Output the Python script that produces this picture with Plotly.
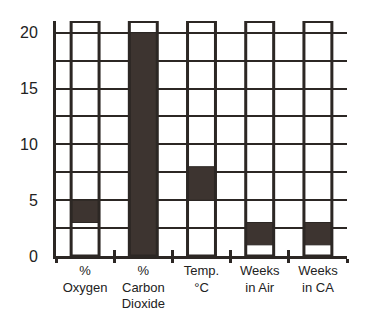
import plotly.graph_objects as go

# Storage conditions: each dark bar spans a recommended low..high range
categories = ["%<br>Oxygen", "%<br>Carbon<br>Dioxide", "Temp.<br>°C", "Weeks<br>in Air", "Weeks<br>in CA"]
range_low = [3, 0, 5, 1, 1]
range_high = [5, 20, 8, 3, 3]
column_top = [21, 21, 21, 21, 21]

y_ticks = [0, 2.5, 5, 7.5, 10, 12.5, 15, 17.5, 20]
y_tick_text = ["0", "", "5", "", "10", "", "15", "", "20"]

ink = "#2c2724"
fill = "#3d3430"
bar_width = 0.48

fig = go.Figure()

# Filled ranges
fig.add_trace(go.Bar(
    x=categories,
    y=[h - l for h, l in zip(range_high, range_low)],
    base=range_low,
    width=bar_width,
    marker=dict(color=fill, line=dict(color=ink, width=1)),
))

# Open columns framing each category (on a twin axis that carries the inner ticks)
fig.add_trace(go.Bar(
    x=categories,
    y=column_top,
    base=[0] * len(categories),
    width=bar_width,
    xaxis="x2",
    marker=dict(color="rgba(0,0,0,0)", line=dict(color=ink, width=3)),
    hoverinfo="skip",
))

axis_common = dict(
    type="category",
    range=[-0.5, 4.5],
    categoryorder="array",
    categoryarray=categories,
    showgrid=False,
    tickson="boundaries",
    tickwidth=3,
    tickcolor=ink,
)

fig.update_layout(
    barmode="overlay",
    showlegend=False,
    width=375,
    height=329,
    margin=dict(l=56, r=28, t=21, b=73),
    paper_bgcolor="white",
    plot_bgcolor="white",
    font=dict(family="Liberation Sans, Arial, sans-serif", color="#222"),
    xaxis=dict(
        **axis_common,
        showline=True,
        linecolor=ink,
        linewidth=3,
        ticks="outside",
        ticklen=4,
        tickfont=dict(size=13),
    ),
    xaxis2=dict(
        **axis_common,
        overlaying="x",
        anchor="y",
        side="bottom",
        showline=False,
        ticks="inside",
        ticklen=6,
        showticklabels=False,
    ),
    yaxis=dict(
        range=[0, 21.05],
        tickvals=y_ticks,
        ticktext=y_tick_text,
        showgrid=True,
        gridcolor=ink,
        gridwidth=2,
        zeroline=False,
        showline=True,
        linecolor=ink,
        linewidth=3,
        ticks="",
        ticklabelstandoff=12,
        tickfont=dict(size=16),
    ),
)

fig.write_html("out.html")
